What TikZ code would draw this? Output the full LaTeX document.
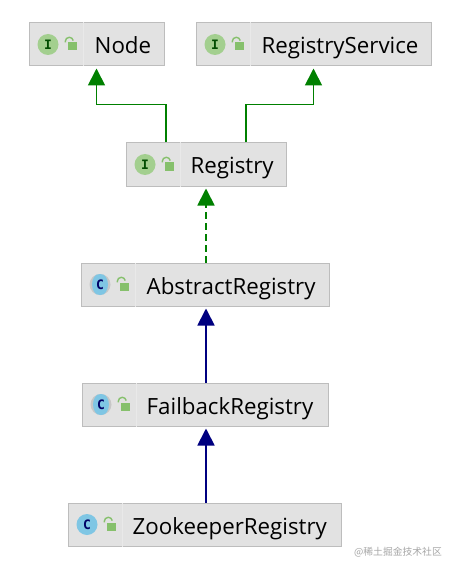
\documentclass[tikz,border=0pt]{standalone}
\usepackage{fontspec}
\setmainfont{Open Sans}
\setmonofont{DejaVu Sans Mono}
\newfontfamily\cjkfont{Noto Sans CJK SC}
\usepackage{xcolor}
\usetikzlibrary{arrows.meta}
\definecolor{boxfill}{HTML}{E2E2E2}
\definecolor{boxline}{HTML}{BDBDBD}
\definecolor{ifacefill}{HTML}{A3CF8F}
\definecolor{classfill}{HTML}{7FC6E4}
\definecolor{lockgreen}{HTML}{86C06C}
\definecolor{extendgreen}{HTML}{008000}
\definecolor{extendblue}{HTML}{000080}

\newcommand{\typeicons}[3]{%
    \node (#1Icon) [#3] at ([xshift=19.5pt]#1.west) {\textbf{#2}};
    \node (#1Lock) [lockbody] at ([xshift=43.5pt,yshift=-2pt]#1.west) {};
    \draw [lockring] ([xshift=-2pt]#1Lock.north west) -- ++(0,1pt) arc (180:10:4pt);
    \draw [divider] ([xshift=55pt]#1.north west) -- ([xshift=55pt]#1.south west);
}

\begin{document}
\begin{tikzpicture}[x=1pt, y=1pt, node distance=120pt]
    \tikzstyle{box} = [rectangle, draw=boxline, fill=boxfill, line width=1pt, minimum height=43pt, inner sep=0pt]
    \tikzstyle{title} = [anchor=base west, inner sep=0pt, font=\fontsize{22.3}{26}\selectfont]
    \tikzstyle{icon} = [circle, minimum size=21pt, inner sep=0pt, font=\ttfamily\fontsize{13}{14}\selectfont]
    \tikzstyle{ifaceicon} = [icon, fill=ifacefill, text=green!30!black]
    \tikzstyle{classicon} = [icon, fill=classfill, text=blue!40!black]
    \tikzstyle{abstracticon} = [icon, fill=black!22, text=blue!40!black, path picture={\fill [classfill] (path picture bounding box.center) ellipse (8pt and 11pt);}]
    \tikzstyle{lockbody} = [rectangle, fill=lockgreen, minimum width=9pt, minimum height=8pt, inner sep=0pt]
    \tikzstyle{lockring} = [lockgreen, line width=1.4pt]
    \tikzstyle{divider} = [white!25!boxfill, line width=0.8pt]
    \tikzstyle{arrow} = [line width=1.8pt, -{Triangle[length=17pt,width=17pt]}, shorten >=2pt]

    \useasboundingbox (0,0) rectangle (455,-572);
    \fill [white] (0,0) rectangle (455,-572);

    \node (registry) [box, minimum width=160pt] at (206,-164.5) {};
    \node (node) [box, minimum width=135pt, above of=registry, xshift=-109.5pt] {};
    \node (service) [box, minimum width=235pt, above of=registry, xshift=107.5pt] {};
    \node (abstract) [box, minimum width=248pt, below of=registry, xshift=-1pt] {};
    \node (failback) [box, minimum width=246pt, below of=abstract] {};
    \node (zookeeper) [box, minimum width=273pt, below of=failback, xshift=-0.5pt] {};

    \typeicons{node}{I}{ifaceicon}
    \typeicons{service}{I}{ifaceicon}
    \typeicons{registry}{I}{ifaceicon}
    \typeicons{abstract}{C}{abstracticon}
    \typeicons{failback}{C}{abstracticon}
    \typeicons{zookeeper}{C}{classicon}

    \node (nodeText) [title] at ([xshift=66pt,yshift=-9.5pt]node.west) {Node};
    \node (serviceText) [title] at ([xshift=66pt,yshift=-9.5pt]service.west) {RegistryService};
    \node (registryText) [title] at ([xshift=65pt,yshift=-9.5pt]registry.west) {Registry};
    \node (abstractText) [title] at ([xshift=66pt,yshift=-9.5pt]abstract.west) {AbstractRegistry};
    \node (failbackText) [title] at ([xshift=65pt,yshift=-9.5pt]failback.west) {FailbackRegistry};
    \node (zookeeperText) [title] at ([xshift=65pt,yshift=-9.5pt]zookeeper.west) {ZookeeperRegistry};

    \node (watermark) [anchor=east, inner sep=0pt, text=black!35, font=\cjkfont\fontsize{9.8}{12}\selectfont] at (442,-552) {@稀土掘金技术社区};

    \draw [arrow, extendgreen] ([xshift=-40pt]registry.north) -- ++(0,38pt) -| (node.south);
    \draw [arrow, extendgreen] ([xshift=40pt]registry.north) -- ++(0,38pt) -| (service.south);
    \draw [arrow, extendgreen, dash pattern=on 7pt off 4pt] (abstract.north -| registry.south) -- (registry.south);
    \draw [arrow, extendblue] (failback.north -| registry.south) -- (abstract.south -| registry.south);
    \draw [arrow, extendblue] (zookeeper.north -| registry.south) -- (failback.south -| registry.south);
\end{tikzpicture}
\end{document}
